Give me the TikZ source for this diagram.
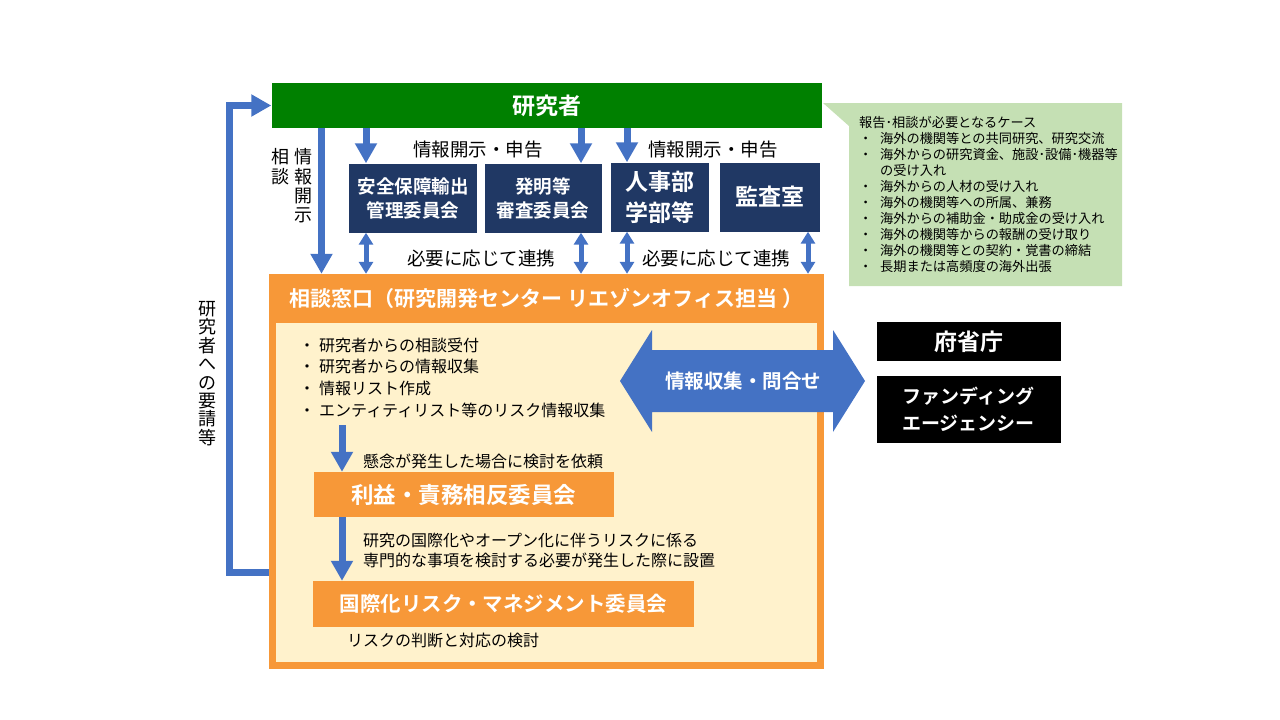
\documentclass[tikz,border=0pt]{standalone}
\usepackage{fontspec}
\setmainfont{Noto Sans CJK JP}[BoldFont={Noto Sans CJK JP Bold}]
\usetikzlibrary{arrows.meta}
\definecolor{resgreen}{HTML}{008000}
\definecolor{navy}{HTML}{203864}
\definecolor{arrblue}{HTML}{4472C4}
\definecolor{madoorange}{HTML}{F79838}
\definecolor{cream}{HTML}{FFF2CC}
\definecolor{notegreen}{HTML}{C5E0B4}
\newcommand\jfs[2]{\fontsize{#1}{#2}\selectfont}
\newcommand\bul{\makebox[20pt][l]{・}}
\newcommand\nbul{\makebox[21pt][l]{・}}
\begin{document}
\begin{tikzpicture}[x=1pt,y=-1pt]
  \tikzstyle{topbar}=[fill=resgreen,text=white,font=\jfs{23}{26}\bfseries,minimum width=550pt,minimum height=45pt,inner sep=0pt]
  \tikzstyle{navybox}=[fill=navy,text=white,align=center,minimum height=69pt,inner sep=0pt]
  \tikzstyle{blackbox}=[fill=black,text=white,align=center,minimum width=184pt,inner sep=0pt]
  \tikzstyle{orbox}=[fill=madoorange,text=white,minimum height=45pt,inner sep=0pt]
  \tikzstyle{lbl}=[inner sep=0pt,font=\jfs{18.5}{22}]
  \tikzstyle{vlbl}=[inner sep=0pt,align=center,font=\jfs{18}{19.3}]
  \tikzstyle{arr}=[draw=arrblue,line width=7pt,-{Triangle[length=20pt,width=21pt]}]
  \tikzstyle{darr}=[draw=arrblue,line width=5pt,{Triangle[length=12pt,width=14pt]}-{Triangle[length=12pt,width=14pt]}]
  \useasboundingbox (0,0) rectangle (1280,720);

  \fill[notegreen] (823,103) -- (1122,103) -- (1122,286) -- (849,286) -- (849,126) -- cycle;
  \node[anchor=west,align=left,inner sep=0pt,font=\jfs{13.2}{16.1}] (cases) at (859,194.5)
    {報告･相談が必要となるケース\\
     \nbul 海外の機関等との共同研究、研究交流\\
     \nbul 海外からの研究資金、施設･設備･機器等\\
     \hspace*{21pt}の受け入れ\\
     \nbul 海外からの人材の受け入れ\\
     \nbul 海外の機関等への所属、兼務\\
     \nbul 海外からの補助金・助成金の受け入れ\\
     \nbul 海外の機関等からの報酬の受け取り\\
     \nbul 海外の機関等との契約・覚書の締結\\
     \nbul 長期または高頻度の海外出張};

  \node[topbar] (res) at (546.5,105.5) {研究者};

  \node[navybox,minimum width=128pt,font=\jfs{18.5}{24}\bfseries] (anpo) at (413,198) {安全保障輸出\\管理委員会};
  \node[navybox,minimum width=117pt,font=\jfs{18.5}{24}\bfseries] (hatsumei) at (543,198) {発明等\\審査委員会};
  \node[navybox,minimum width=98pt,font=\jfs{23}{31}\bfseries] (jinji) at (660,197) {人事部\\学部等};
  \node[navybox,minimum width=100pt,font=\jfs{23}{26}\bfseries] (kansa) at (770,197) {監査室};

  \node[lbl] (kaiji1) at (478,150) {情報開示・申告};
  \node[lbl] (kaiji2) at (713,150) {情報開示・申告};
  \node[lbl] (renkei1) at (481,258) {必要に応じて連携};
  \node[lbl] (renkei2) at (716,258) {必要に応じて連携};

  \node[vlbl] (sodan) at (280,166.7) {相\\談};
  \node[vlbl] (kaiji) at (303,186) {情\\報\\開\\示};
  \node[vlbl,font=\jfs{18}{18.4}] (yosei) at (207.5,373.5) {研\\究\\者\\へ\\の\\要\\請\\等};

  \node[draw=madoorange,fill=cream,line width=7pt,minimum width=548pt,minimum height=388pt] (win) at (546.5,471.5) {};
  \node[fill=madoorange,text=white,font=\jfs{21}{24}\bfseries,minimum width=555pt,minimum height=49pt,inner sep=0pt] (hdr) at (546.5,298.5)
    {相談窓口（研究開発センター リエゾンオフィス担当 ）};

  \node[anchor=west,align=left,inner sep=0pt,font=\jfs{16}{21.7}] (tasks) at (299,377.5)
    {\bul 研究者からの相談受付\\
     \bul 研究者からの情報収集\\
     \bul 情報リスト作成\\
     \bul エンティティリスト等のリスク情報収集};

  \node[orbox,minimum width=300pt,font=\jfs{22.5}{26}\bfseries] (rieki) at (463.5,494.5) {利益・責務相反委員会};
  \node[orbox,minimum width=381pt,minimum height=46pt,font=\jfs{20.5}{24}\bfseries] (kokusai) at (503.5,604) {国際化リスク・マネジメント委員会};
  \node[anchor=west,inner sep=0pt,font=\jfs{16}{20}] (irai) at (363,461) {懸念が発生した場合に検討を依頼};
  \node[anchor=west,align=left,inner sep=0pt,font=\jfs{16}{20.7}] (setchi) at (363,550.5)
    {研究の国際化やオープン化に伴うリスクに係る\\専門的な事項を検討する必要が発生した際に設置};
  \node[anchor=west,inner sep=0pt,font=\jfs{16}{20}] (kento) at (347,640) {リスクの判断と対応の検討};

  \fill[arrblue] (620,381) -- (652,330) -- (652,350) -- (833,350) -- (833,330) -- (865,381)
    -- (833,432) -- (833,412) -- (652,412) -- (652,432) -- cycle;
  \node[text=white,inner sep=0pt,font=\jfs{19.5}{22}\bfseries] (shushu) at (743,381) {情報収集・問合せ};

  \node[blackbox,minimum height=39pt,font=\jfs{23}{26}\bfseries] (fusho) at (968.5,341.5) {府省庁};
  \node[blackbox,minimum height=67pt,font=\jfs{19}{27}\bfseries] (funding) at (968.5,409.5) {ファンディング\\エージェンシー};

  \coordinate (c0) at (321.5,0);
  \coordinate (c1) at (366,0);
  \coordinate (c2) at (581,0);
  \coordinate (c3) at (627,0);
  \coordinate (c4) at (808,0);
  \coordinate (k1) at (342,425);
  \coordinate (ret) at (229.5,572.5);

  \draw[arr] (c0 |- res.south) -- (c0 |- hdr.north);
  \draw[arr] (c1 |- res.south) -- (c1 |- anpo.north);
  \draw[arr] (c2 |- res.south) -- (c2 |- hatsumei.north);
  \draw[arr] (c3 |- res.south) -- (c3 |- jinji.north);
  \draw[darr] (c1 |- anpo.south) -- (c1 |- hdr.north);
  \draw[darr] (c2 |- hatsumei.south) -- (c2 |- hdr.north);
  \draw[darr] (c3 |- jinji.south) -- (c3 |- hdr.north);
  \draw[darr] (c4 |- kansa.south) -- (c4 |- hdr.north);
  \draw[arr] (k1) -- (k1 |- rieki.north);
  \draw[arr] (k1 |- rieki.south) -- (k1 |- kokusai.north);
  \draw[arr] (ret -| hdr.west) -- (ret) |- (res.west);
\end{tikzpicture}
\end{document}
